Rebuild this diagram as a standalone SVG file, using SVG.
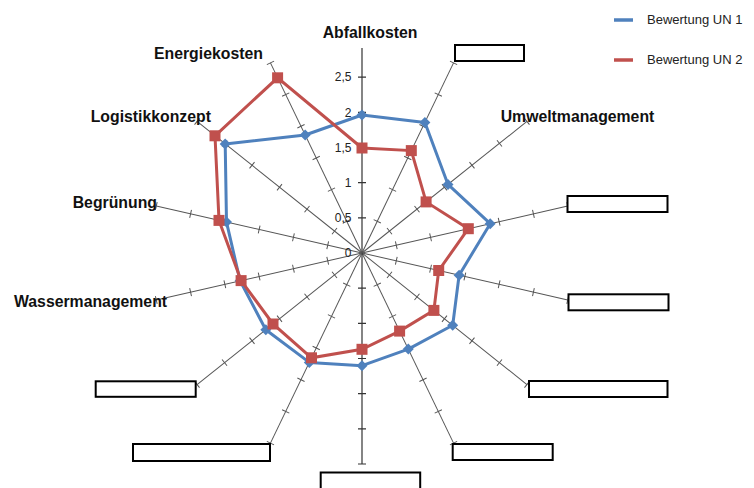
<svg xmlns="http://www.w3.org/2000/svg" xmlns:xlink="http://www.w3.org/1999/xlink" width="754" height="488" viewBox="0 0 754 488">
<style>
.ax{stroke:#555;stroke-width:1;fill:none}
.axv{stroke:#333;stroke-width:1.2;fill:none}
.cat{font-family:"Liberation Sans",Arial,sans-serif;font-weight:bold;font-size:15.8px;fill:#111}
.val{font-family:"Liberation Sans",Arial,sans-serif;font-size:12px;fill:#222;text-anchor:end}
.leg{font-family:"Liberation Sans",Arial,sans-serif;font-size:13px;fill:#222}
.box{fill:#fff;stroke:#000;stroke-width:2}
.s1{fill:none;stroke:#4F81BD;stroke-width:3;stroke-linejoin:round}
.s2{fill:none;stroke:#C0504D;stroke-width:3;stroke-linejoin:miter}
.m1{fill:#4F81BD}
.m2{fill:#C0504D}
</style>
<defs>
<g id="spoke">
<line x1="0" y1="0" x2="0" y2="-211"/>
<path d="M-4,-35.17h8M-4,-70.33h8M-4,-105.5h8M-4,-140.67h8M-4,-175.83h8M-4,-211h8"/>
</g>
<path id="dia" d="M0,-5.5L5.5,0L0,5.5L-5.5,0Z"/>
<rect id="sq" x="-5.5" y="-5.5" width="11" height="11"/>
</defs>
<rect width="754" height="488" fill="#fff"/>

<g id="connectors" class="ax">
<g transform="translate(362,253)">
<line class="axv" x1="0" y1="0" x2="0" y2="-205"/>
<path class="axv" d="M-4,-35.17h8M-4,-70.33h8M-4,-105.5h8M-4,-140.67h8M-4,-175.83h8"/>
<use xlink:href="#spoke" transform="rotate(25.714)"/>
<use xlink:href="#spoke" transform="rotate(51.429)"/>
<use xlink:href="#spoke" transform="rotate(77.143)"/>
<use xlink:href="#spoke" transform="rotate(102.857)"/>
<use xlink:href="#spoke" transform="rotate(128.571)"/>
<use xlink:href="#spoke" transform="rotate(154.286)"/>
<use xlink:href="#spoke" class="axv" transform="rotate(180)"/>
<use xlink:href="#spoke" transform="rotate(205.714)"/>
<use xlink:href="#spoke" transform="rotate(231.429)"/>
<use xlink:href="#spoke" transform="rotate(257.143)"/>
<use xlink:href="#spoke" transform="rotate(282.857)"/>
<use xlink:href="#spoke" transform="rotate(308.571)"/>
<use xlink:href="#spoke" transform="rotate(334.286)"/>
</g>
</g>

<g id="value-axis-labels">
<text class="val" x="351.5" y="257">0</text>
<text class="val" x="351.5" y="222">0,5</text>
<text class="val" x="351.5" y="187">1</text>
<text class="val" x="351.5" y="151.5">1,5</text>
<text class="val" x="351.5" y="116.5">2</text>
<text class="val" x="351.5" y="81">2,5</text>
</g>

<g id="series-un1">
<polyline class="s1" points="362,115 424.9,122.4 448,184.4 490.2,223.7 459.1,275.2 452.7,325.3 408.3,349.1 362,365.7 309.3,362.4 265.8,329.7 240.1,280.8 226.5,222.1 225.2,143.9 305.2,135 362,115"/>
<g class="m1">
<use xlink:href="#dia" x="362" y="115"/>
<use xlink:href="#dia" x="424.9" y="122.4"/>
<use xlink:href="#dia" x="448" y="184.4"/>
<use xlink:href="#dia" x="490.2" y="223.7"/>
<use xlink:href="#dia" x="459.1" y="275.2"/>
<use xlink:href="#dia" x="452.7" y="325.3"/>
<use xlink:href="#dia" x="408.3" y="349.1"/>
<use xlink:href="#dia" x="362" y="365.7"/>
<use xlink:href="#dia" x="309.3" y="362.4"/>
<use xlink:href="#dia" x="265.8" y="329.7"/>
<use xlink:href="#dia" x="240.1" y="280.8"/>
<use xlink:href="#dia" x="226.5" y="222.1"/>
<use xlink:href="#dia" x="225.2" y="143.9"/>
<use xlink:href="#dia" x="305.2" y="135"/>
</g>
</g>

<g id="series-un2">
<polyline class="s2" points="362,148 411.3,150.6 426.1,201.9 468.3,228.7 438.7,270.5 433.9,310.4 399.6,331.1 362,349.3 311.5,357.8 273,324 241.1,280.6 219,220.4 215,135.8 277.6,77.8 362,148"/>
<g class="m2">
<use xlink:href="#sq" x="362" y="148"/>
<use xlink:href="#sq" x="411.3" y="150.6"/>
<use xlink:href="#sq" x="426.1" y="201.9"/>
<use xlink:href="#sq" x="468.3" y="228.7"/>
<use xlink:href="#sq" x="438.7" y="270.5"/>
<use xlink:href="#sq" x="433.9" y="310.4"/>
<use xlink:href="#sq" x="399.6" y="331.1"/>
<use xlink:href="#sq" x="362" y="349.3"/>
<use xlink:href="#sq" x="311.5" y="357.8"/>
<use xlink:href="#sq" x="273" y="324"/>
<use xlink:href="#sq" x="241.1" y="280.6"/>
<use xlink:href="#sq" x="219" y="220.4"/>
<use xlink:href="#sq" x="215" y="135.8"/>
<use xlink:href="#sq" x="277.6" y="77.8"/>
</g>
</g>

<g id="label-abfallkosten"><text class="cat" x="322.7" y="37.7">Abfallkosten</text></g>
<g id="label-energiekosten"><text class="cat" x="154" y="59">Energiekosten</text></g>
<g id="label-umweltmanagement"><text class="cat" x="500.7" y="121.7">Umweltmanagement</text></g>
<g id="label-logistikkonzept"><text class="cat" x="90.7" y="121.7">Logistikkonzept</text></g>
<g id="label-begruenung"><text class="cat" x="72.7" y="208.3">Begrünung</text></g>
<g id="label-wassermanagement"><text class="cat" x="14" y="306.7">Wassermanagement</text></g>

<g id="box-1"><rect class="box" x="455" y="45" width="69" height="16"/></g>
<g id="box-2"><rect class="box" x="567.5" y="196" width="100" height="16"/></g>
<g id="box-3"><rect class="box" x="568.5" y="294.3" width="100" height="16"/></g>
<g id="box-4"><rect class="box" x="529" y="381" width="138.5" height="16"/></g>
<g id="box-5"><rect class="box" x="452.7" y="444" width="100" height="16"/></g>
<g id="box-6"><rect class="box" x="320.7" y="472.5" width="99.5" height="20"/></g>
<g id="box-7"><rect class="box" x="133" y="444" width="137" height="17"/></g>
<g id="box-8"><rect class="box" x="95.7" y="381.3" width="100" height="15.5"/></g>

<g id="legend">
<line x1="614" y1="20" x2="633" y2="20" stroke="#4F81BD" stroke-width="3.5"/>
<text class="leg" x="647" y="24">Bewertung UN 1</text>
<line x1="614" y1="60" x2="633" y2="60" stroke="#C0504D" stroke-width="3.5"/>
<text class="leg" x="647" y="64">Bewertung UN 2</text>
</g>
</svg>
